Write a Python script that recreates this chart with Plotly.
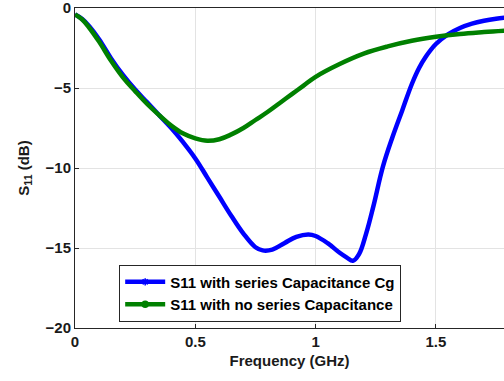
import plotly.graph_objects as go

freq_cg = [0, 0.03, 0.06, 0.1, 0.15, 0.2, 0.25, 0.3, 0.35, 0.4, 0.45, 0.5, 0.55, 0.6, 0.65, 0.7, 0.75, 0.78,
           0.82, 0.87, 0.92, 0.97, 1.0, 1.05, 1.1, 1.13, 1.155, 1.18, 1.21, 1.24, 1.28, 1.32, 1.36, 1.4,
           1.43, 1.46, 1.5, 1.55, 1.6, 1.65, 1.7, 1.75, 1.8]
s11_cg = [-0.4, -0.68, -1.15, -1.95, -3.15, -4.2, -5.1, -5.9, -6.7, -7.5, -8.4, -9.4, -10.6, -11.8, -13.0, -14.1,
          -14.95, -15.15, -15.1, -14.7, -14.3, -14.15, -14.25, -14.7, -15.3, -15.6, -15.8, -15.4, -14.1, -12.4,
          -9.9, -8.05, -6.4, -4.75, -3.75, -3.0, -2.25, -1.65, -1.25, -0.98, -0.8, -0.67, -0.58]

freq_no = [0, 0.03, 0.06, 0.1, 0.15, 0.2, 0.25, 0.3, 0.35, 0.4, 0.45, 0.5, 0.55, 0.6, 0.65, 0.7, 0.75, 0.8,
           0.85, 0.9, 0.95, 1.0, 1.1, 1.2, 1.3, 1.4, 1.5, 1.6, 1.7, 1.8]
s11_no = [-0.4, -0.72, -1.25, -2.1, -3.3, -4.35, -5.2, -6.0, -6.7, -7.35, -7.85, -8.15, -8.3, -8.2, -7.9, -7.5,
          -7.0, -6.5, -5.95, -5.4, -4.85, -4.3, -3.5, -2.85, -2.4, -2.05, -1.8, -1.62, -1.5, -1.4]

names = ["S11 with series Capacitance Cg", "S11 with no series Capacitance"]
colors = ["#0000ff", "#008000"]
symbols = ["asterisk-open", "circle"]

font_fam = "Arial, Liberation Sans, sans-serif"

fig = go.Figure()
for fx, fy, col in [(freq_cg, s11_cg, colors[0]), (freq_no, s11_no, colors[1])]:
    fig.add_trace(go.Scatter(x=fx, y=fy, mode="lines", showlegend=False,
                             line=dict(color=col, width=4.5, shape="spline", smoothing=1.1)))
# legend entries (line + marker, as in the reference legend)
for name, col, sym in zip(names, colors, symbols):
    fig.add_trace(go.Scatter(x=[None], y=[None], name=name, mode="lines+markers",
                             line=dict(color=col, width=4.5),
                             marker=dict(symbol=sym, size=6, color=col, line=dict(width=1.5, color=col))))

axis_common = dict(showline=True, linecolor="#262626", linewidth=1, mirror=True,
                   ticks="inside", ticklen=4, tickcolor="#262626",
                   showgrid=True, gridcolor="#e3e3e3", gridwidth=1, zeroline=False,
                   ticklabeloverflow="allow",
                   tickfont=dict(family=font_fam, size=15, color="#1a1a1a", weight="bold"))

fig.update_layout(
    width=504, height=381,
    margin=dict(l=75, r=0, t=8, b=53),
    paper_bgcolor="white", plot_bgcolor="white",
    font=dict(family=font_fam, color="#1a1a1a"),
    showlegend=True,
    legend=dict(x=0.103, y=0.02, xanchor="left", yanchor="bottom",
                bordercolor="#262626", borderwidth=1, bgcolor="white",
                font=dict(family=font_fam, size=15, color="#000000", weight="bold"),
                tracegroupgap=0, itemwidth=40),
    xaxis=dict(range=[0, 1.783], tickvals=[0, 0.5, 1, 1.5], ticktext=["0", "0.5", "1", "1.5"],
               title=dict(text="<b>Frequency (GHz)</b>", font=dict(family=font_fam, size=15), standoff=6),
               **axis_common),
    yaxis=dict(range=[-20, 0], tickvals=[-20, -15, -10, -5, 0],
               title=dict(text="<b>S<sub>11</sub> (dB)</b>", font=dict(family=font_fam, size=15), standoff=12),
               **axis_common),
)

fig.write_html("out.html")
